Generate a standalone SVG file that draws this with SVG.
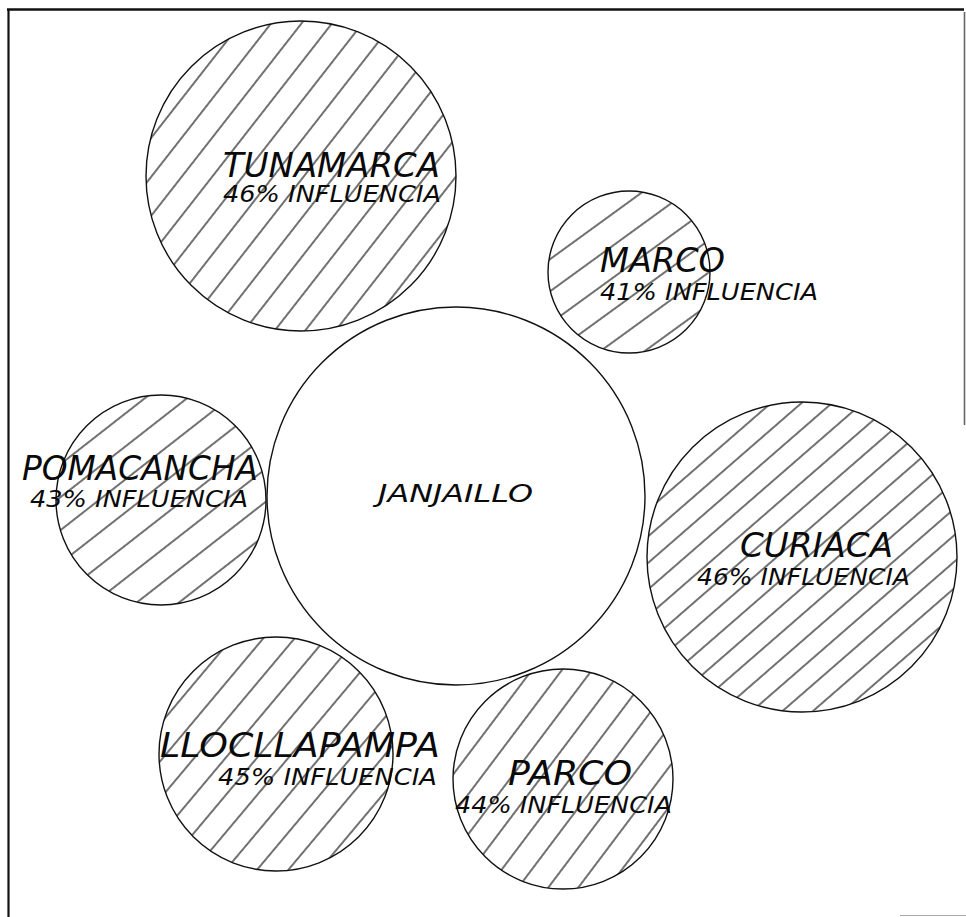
<svg xmlns="http://www.w3.org/2000/svg" width="966" height="917" viewBox="0 0 966 917">
<style>
.c{stroke:#111;stroke-width:1.4}
.h{stroke:#111;stroke-width:1.2}
.t{font-family:"DejaVu Sans","Liberation Sans",sans-serif;font-style:italic;fill:#0a0a0a}
.n{font-size:33px}
.s{font-size:23px}
</style>
<defs>
<pattern id="pT" patternUnits="userSpaceOnUse" width="24" height="24" patternTransform="rotate(-52)"><line class="h" x1="0" y1="12" x2="24" y2="12"/></pattern>
<pattern id="pM" patternUnits="userSpaceOnUse" width="26" height="26" patternTransform="rotate(-36)"><line class="h" x1="0" y1="13" x2="26" y2="13"/></pattern>
<pattern id="pP" patternUnits="userSpaceOnUse" width="26" height="26" patternTransform="rotate(-38)"><line class="h" x1="0" y1="13" x2="26" y2="13"/></pattern>
<pattern id="pC" patternUnits="userSpaceOnUse" width="20" height="20" patternTransform="rotate(-41)"><line class="h" x1="0" y1="10" x2="20" y2="10"/></pattern>
<pattern id="pL" patternUnits="userSpaceOnUse" width="24" height="24" patternTransform="rotate(-50)"><line class="h" x1="0" y1="12" x2="24" y2="12"/></pattern>
<pattern id="pR" patternUnits="userSpaceOnUse" width="24" height="24" patternTransform="rotate(-53)"><line class="h" x1="0" y1="12" x2="24" y2="12"/></pattern>
</defs>
<rect width="966" height="917" fill="#fff"/>
<g id="frame" fill="none" stroke="#111">
<line x1="7" y1="9.5" x2="964" y2="9.5" stroke-width="2.5"/>
<line x1="8.5" y1="9" x2="8.5" y2="917" stroke-width="2.2"/>
<line x1="964.5" y1="12" x2="964.5" y2="425" stroke-width="1.6" stroke="#666"/>
<line x1="900" y1="915.5" x2="966" y2="915.5" stroke-width="1.2" stroke="#aaa"/>
</g>
<g id="connectors"></g>
<g id="tunamarca">
<circle class="c" cx="301" cy="176" r="155" fill="url(#pT)"/>
<text class="t n" x="223" y="177" textLength="217" lengthAdjust="spacingAndGlyphs">TUNAMARCA</text>
<text class="t s" x="223" y="202" textLength="218" lengthAdjust="spacingAndGlyphs">46% INFLUENCIA</text>
</g>
<g id="marco">
<circle class="c" cx="629" cy="272" r="81" fill="url(#pM)"/>
<text class="t n" x="600" y="272" textLength="125" lengthAdjust="spacingAndGlyphs">MARCO</text>
<text class="t s" x="600" y="300" textLength="218" lengthAdjust="spacingAndGlyphs">41% INFLUENCIA</text>
</g>
<g id="pomacancha">
<circle class="c" cx="161" cy="500" r="105" fill="url(#pP)"/>
<text class="t n" x="22" y="480" textLength="236" lengthAdjust="spacingAndGlyphs">POMACANCHA</text>
<text class="t s" x="30" y="507" textLength="218" lengthAdjust="spacingAndGlyphs">43% INFLUENCIA</text>
</g>
<g id="janjaillo">
<circle class="c" cx="456" cy="496" r="189" fill="none"/>
<text class="t" font-size="25" x="378" y="502" textLength="155" lengthAdjust="spacingAndGlyphs">JANJAILLO</text>
</g>
<g id="curiaca">
<circle class="c" cx="802" cy="557" r="155" fill="url(#pC)"/>
<text class="t n" x="740" y="557" textLength="153" lengthAdjust="spacingAndGlyphs">CURIACA</text>
<text class="t s" x="697" y="585" textLength="213" lengthAdjust="spacingAndGlyphs">46% INFLUENCIA</text>
</g>
<g id="lloclapampa">
<circle class="c" cx="276" cy="754" r="117" fill="url(#pL)"/>
<text class="t n" x="160" y="757" textLength="280" lengthAdjust="spacingAndGlyphs">LLOCLLAPAMPA</text>
<text class="t s" x="218" y="785" textLength="219" lengthAdjust="spacingAndGlyphs">45% INFLUENCIA</text>
</g>
<g id="parco">
<circle class="c" cx="563" cy="779" r="110" fill="url(#pR)"/>
<text class="t n" x="508" y="785" textLength="124" lengthAdjust="spacingAndGlyphs">PARCO</text>
<text class="t s" x="455" y="813" textLength="217" lengthAdjust="spacingAndGlyphs">44% INFLUENCIA</text>
</g>
</svg>
